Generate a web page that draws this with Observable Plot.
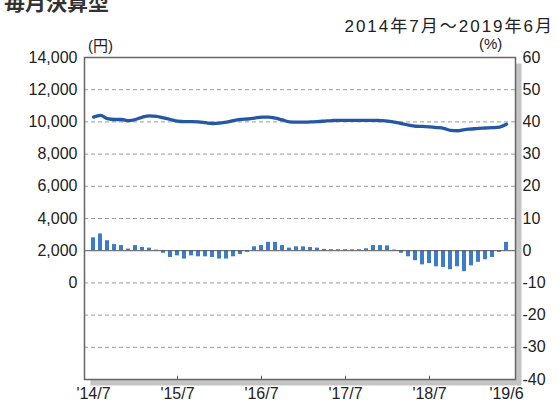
<!DOCTYPE html>
<html>
<head>
<meta charset="utf-8">
<script src="https://cdn.jsdelivr.net/npm/d3@7"></script>
<script src="https://cdn.jsdelivr.net/npm/@observablehq/plot@0.6"></script>
<style>
  html, body { margin: 0; padding: 0; background: #fff; }
  #wrap { position: relative; width: 558px; height: 410px; overflow: hidden; }
  .t { position: absolute; white-space: nowrap; color: #222; line-height: 1.15; }
  #title { left: 4px; top: -14px; font: bold 21px "Noto Sans CJK JP", sans-serif; color: #333; }
  #sub { right: 4px; top: 12px; font: 17px "Liberation Sans", "Noto Sans CJK JP", sans-serif; letter-spacing: 2px; }
  #yen { left: 88px; top: 34px; font: 15px "Liberation Sans", "Noto Sans CJK JP", sans-serif; }
  #pct { left: 479px; top: 35px; font: 15px "Liberation Sans", Arial, sans-serif; }
</style>
</head>
<body>
<div id="wrap">
  <div id="chart"></div>
  <div class="t" id="title">毎月決算型</div>
  <div class="t" id="sub">2014年7月～2019年6月</div>
  <div class="t" id="yen">(円)</div>
  <div class="t" id="pct">(%)</div>
</div>
<script>
// Month keys, 2014-07 .. 2019-06 (60 months)
const months = [];
for (let y = 2014; y <= 2019; y++) {
  for (let m = 1; m <= 12; m++) {
    if ((y === 2014 && m < 7) || (y === 2019 && m > 6)) continue;
    months.push(y + "-" + String(m).padStart(2, "0"));
  }
}

// monthly amount (円), left axis
const amount = [
  10300, 10400, 10200, 10150, 10150, 10080, 10150, 10300, 10380, 10350, 10250, 10150,
  10050, 10020, 10020, 10000, 9950, 9900, 9920, 9980, 10080, 10150, 10180, 10230,
  10300, 10300, 10230, 10120, 10000, 9980, 9980, 10000, 10020, 10050, 10080, 10100,
  10100, 10100, 10100, 10100, 10100, 10080, 10050, 9980, 9900, 9800, 9730, 9720,
  9690, 9650, 9600, 9480, 9450, 9520, 9560, 9600, 9620, 9640, 9680, 9850
];

// change (%), right axis
const change = [
  4.0, 5.2, 3.1, 1.9, 1.6, 0.5, 1.6, 1.0, 0.8, 0.2, -0.8, -2.1,
  -1.6, -2.6, -1.6, -1.9, -1.9, -2.1, -2.6, -2.6, -1.9, -1.2, -0.5, 1.2,
  1.6, 2.6, 2.6, 1.6, 0.8, 1.2, 1.2, 1.0, 0.8, 0.4, 0.3, 0.3,
  0.3, 0.3, 0.3, 0.6, 1.6, 1.6, 1.5, 0.2, -0.8, -1.9, -3.1, -4.4,
  -4.0, -5.0, -5.2, -5.9, -5.0, -6.5, -4.7, -3.6, -2.8, -2.1, -0.5, 2.6
];

const xTickMonths = ["2014-07", "2015-07", "2016-07", "2017-07", "2018-07", "2019-06"];
const xTickLabels = ["'14/7", "'15/7", "'16/7", "'17/7", "'18/7", "'19/6"];
const leftTicks = [0, 2000, 4000, 6000, 8000, 10000, 12000, 14000];
const rightTicks = [-40, -30, -20, -10, 0, 10, 20, 30, 40, 50, 60];
const gridTicks = [-30, -20, -10, 10, 20, 30, 40, 50];

// left axis (円) is tied to right axis (%): 2,000円 ↔ 0%, 200円 per 1%
const toPct = v => (v - 2000) / 200;

const data = months.map((m, i) => ({month: m, amount: amount[i], change: change[i]}));
const labelOf = new Map(xTickMonths.map((m, i) => [m, xTickLabels[i]]));
const fmt = d3.format(",");

const chart = Plot.plot({
  width: 558,
  height: 410,
  marginTop: 57,
  marginBottom: 31,
  marginLeft: 84,
  marginRight: 43,
  x: {type: "band", domain: months, padding: 0.42, axis: null},
  y: {domain: [-40, 60], axis: null},
  style: {fontFamily: "'Liberation Sans', Arial, sans-serif", fontSize: "14px", color: "#222", background: "transparent"},
  marks: [
    Plot.frame({fill: "#c4c4c4", dx: 6, dy: 6}),
    Plot.frame({fill: "white"}),
    Plot.ruleY(gridTicks, {stroke: "#9a9a9a", strokeDasharray: "4,3", strokeWidth: 1}),
    Plot.barY(data, {x: "month", y: "change", fill: "#3d7ccb"}),
    Plot.ruleY([0], {stroke: "#555", strokeWidth: 1}),
    Plot.line(data, {x: "month", y: d => toPct(d.amount), stroke: "#2457a5", strokeWidth: 3.3, curve: "monotone-x"}),
    Plot.frame({stroke: "#666", strokeWidth: 1.5}),
    Plot.ruleX(xTickMonths.slice(1, 5), {y1: -40, y2: -39, stroke: "#555"}),
    Plot.axisY(rightTicks, {anchor: "right", label: null, tickSize: 0, tickPadding: 7, fontSize: 16, letterSpacing: -0.3, tickFormat: d => String(d)}),
    Plot.axisY(leftTicks.map(toPct), {anchor: "left", label: null, tickSize: 0, tickPadding: 7, fontSize: 16, letterSpacing: -1, tickFormat: d => fmt(Math.round(d * 200 + 2000))}),
    Plot.axisX(xTickMonths, {anchor: "bottom", label: null, tickSize: 0, tickPadding: 8, fontSize: 16, letterSpacing: -0.5, tickFormat: d => labelOf.get(d)})
  ]
});
document.getElementById("chart").appendChild(chart);
</script>
</body>
</html>
